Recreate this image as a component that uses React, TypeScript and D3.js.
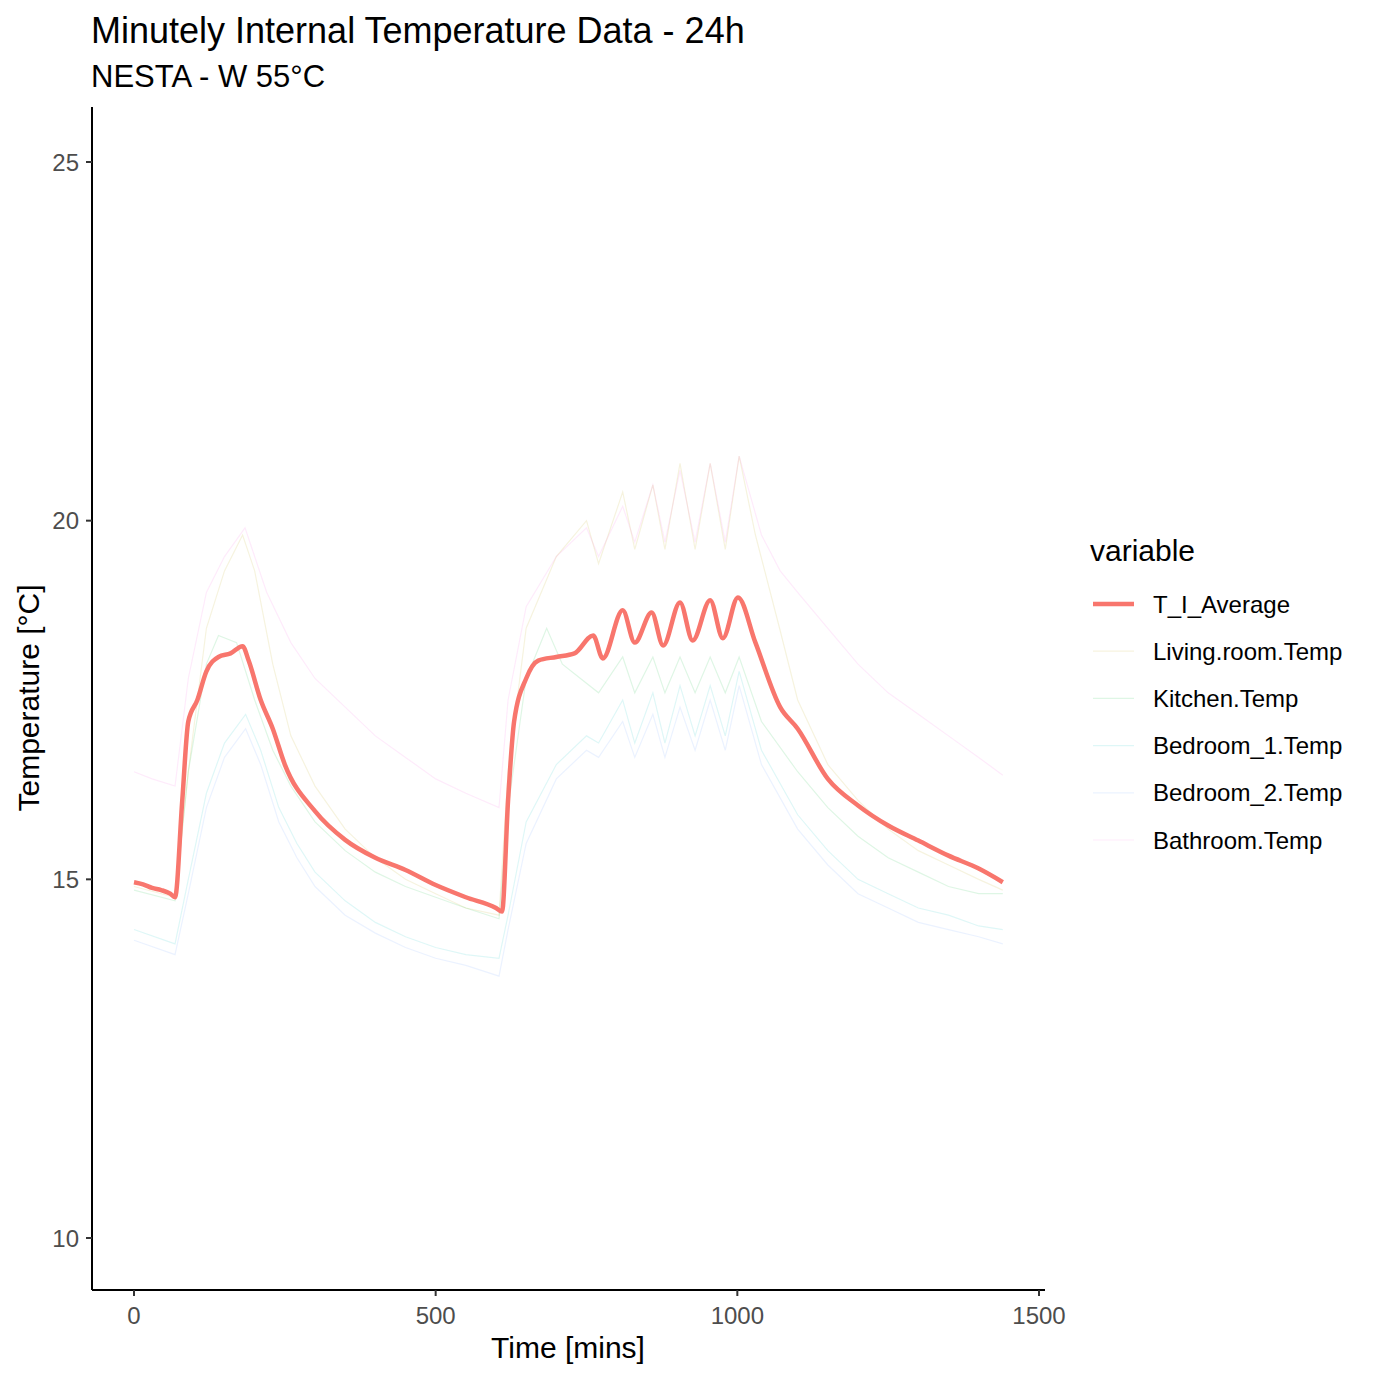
// minutely internal temperature, 24h, one thick average line + faint room lines

import React, { useEffect, useRef } from "react";
import * as d3 from "d3";

const seriesNames = [
  "T_I_Average",
  "Living.room.Temp",
  "Kitchen.Temp",
  "Bedroom_1.Temp",
  "Bedroom_2.Temp",
  "Bathroom.Temp",
];
const seriesColors = ["#F8766D", "#B79F00", "#00BA38", "#00BFC4", "#619CFF", "#F564E3"];

const avgTime = [0, 15, 30, 45, 60, 68, 80, 90, 105, 120, 140, 160, 180, 190, 210, 230, 250, 300, 350, 400, 450, 500, 550, 600, 610, 620, 630, 650, 670, 700, 730, 761, 777, 810, 830, 858, 877, 905, 926, 955, 976, 1001, 1030, 1071, 1100, 1150, 1200, 1250, 1300, 1350, 1400, 1440];
const avgTemp = [14.96, 14.93, 14.88, 14.85, 14.8, 14.75, 16.1, 17.2, 17.5, 17.9, 18.1, 18.15, 18.25, 18.05, 17.5, 17.1, 16.6, 15.95, 15.55, 15.3, 15.13, 14.92, 14.75, 14.6, 14.55, 16.1, 17.2, 17.8, 18.05, 18.1, 18.15, 18.4, 18.08, 18.75, 18.3, 18.72, 18.26, 18.86, 18.33, 18.89, 18.36, 18.93, 18.3, 17.4, 17.1, 16.4, 16.03, 15.75, 15.54, 15.33, 15.15, 14.96];

const livingTime = [0, 68, 90, 120, 150, 180, 200, 230, 260, 300, 350, 400, 450, 500, 550, 605, 620, 650, 700, 750, 770, 810, 830, 860, 880, 905, 930, 955, 980, 1003, 1030, 1070, 1100, 1150, 1200, 1250, 1300, 1350, 1400, 1440];
const livingTemp = [14.9, 14.75, 16.5, 18.5, 19.3, 19.8, 19.3, 18.0, 17.0, 16.3, 15.7, 15.3, 15.0, 14.8, 14.6, 14.5, 16.5, 18.5, 19.5, 20.0, 19.4, 20.4, 19.6, 20.5, 19.6, 20.8, 19.6, 20.8, 19.6, 20.9, 19.8, 18.5, 17.5, 16.6, 16.1, 15.7, 15.4, 15.2, 15.0, 14.85];

const kitchenTime = [0, 68, 90, 120, 140, 170, 200, 230, 260, 300, 350, 400, 450, 500, 550, 605, 620, 650, 684, 710, 740, 770, 810, 830, 860, 880, 905, 930, 955, 980, 1003, 1040, 1100, 1150, 1200, 1250, 1300, 1350, 1400, 1440];
const kitchenTemp = [14.85, 14.7, 16.5, 18.0, 18.4, 18.3, 17.5, 16.8, 16.3, 15.8, 15.4, 15.1, 14.9, 14.75, 14.6, 14.45, 16.0, 17.8, 18.5, 18.0, 17.8, 17.6, 18.1, 17.6, 18.1, 17.6, 18.1, 17.6, 18.1, 17.6, 18.1, 17.2, 16.5, 16.0, 15.6, 15.3, 15.1, 14.9, 14.8, 14.8];

const bed1Time = [0, 68, 90, 120, 150, 185, 210, 240, 270, 300, 350, 400, 450, 500, 550, 605, 620, 650, 700, 750, 770, 810, 830, 860, 880, 905, 930, 955, 980, 1003, 1040, 1100, 1150, 1200, 1250, 1300, 1350, 1400, 1440];
const bed1Temp = [14.3, 14.1, 15.0, 16.2, 16.9, 17.3, 16.8, 16.0, 15.5, 15.1, 14.7, 14.4, 14.2, 14.05, 13.95, 13.9, 14.5, 15.8, 16.6, 17.0, 16.9, 17.5, 16.9, 17.6, 16.9, 17.7, 17.0, 17.7, 17.0, 17.9, 16.8, 15.9, 15.4, 15.0, 14.8, 14.6, 14.5, 14.35, 14.3];

const bed2Time = [0, 68, 90, 120, 150, 185, 210, 240, 270, 300, 350, 400, 450, 500, 550, 605, 620, 650, 700, 750, 770, 810, 830, 860, 880, 905, 930, 955, 980, 1003, 1040, 1100, 1150, 1200, 1250, 1300, 1350, 1400, 1440];
const bed2Temp = [14.15, 13.95, 14.8, 16.0, 16.7, 17.1, 16.6, 15.8, 15.3, 14.9, 14.5, 14.25, 14.05, 13.9, 13.8, 13.65, 14.3, 15.5, 16.4, 16.8, 16.7, 17.2, 16.7, 17.3, 16.7, 17.4, 16.8, 17.5, 16.8, 17.7, 16.6, 15.7, 15.2, 14.8, 14.6, 14.4, 14.3, 14.2, 14.1];

const bathTime = [0, 30, 68, 90, 120, 150, 184, 220, 260, 300, 350, 400, 450, 500, 550, 605, 620, 650, 700, 750, 770, 810, 830, 860, 880, 905, 930, 955, 980, 1003, 1040, 1071, 1100, 1150, 1200, 1250, 1300, 1350, 1400, 1440];
const bathTemp = [16.5, 16.4, 16.3, 17.8, 19.0, 19.5, 19.9, 19.0, 18.3, 17.8, 17.4, 17.0, 16.7, 16.4, 16.2, 16.0, 17.5, 18.8, 19.5, 19.9, 19.5, 20.2, 19.7, 20.5, 19.7, 20.7, 19.7, 20.8, 19.7, 20.9, 19.8, 19.3, 19.0, 18.5, 18.0, 17.6, 17.3, 17.0, 16.7, 16.45];

const xTicks = [0, 500, 1000, 1500];
const yTicks = [10, 15, 20, 25];

type Pt = { t: number; v: number };
const zip = (ts: number[], vs: number[]): Pt[] => ts.map((t, i) => ({ t, v: vs[i] }));

const App: React.FC = () => {
  const svgRef = useRef<SVGSVGElement | null>(null);

  useEffect(() => {
    const width = 1379;
    const height = 1379;
    const panelLeft = 92;
    const panelRight = 1045;
    const panelTop = 107;
    const panelBottom = 1290;
    const font = "Arial, 'Liberation Sans', sans-serif";

    const x = d3.scaleLinear().domain([0, 1500]).range([134, 1039]);
    const y = d3.scaleLinear().domain([10, 25]).range([1238, 162]);

    const svg = d3
      .select(svgRef.current)
      .attr("width", width)
      .attr("height", height)
      .attr("viewBox", [0, 0, width, height])
      .style("display", "block")
      .style("position", "absolute")
      .style("left", "0px")
      .style("top", "0px")
      .style("font-family", font);
    svg.selectAll("*").remove();

    svg.append("rect").attr("width", width).attr("height", height).attr("fill", "#fff");

    // titles
    svg
      .append("text")
      .attr("x", 91)
      .attr("y", 43)
      .attr("font-size", 36)
      .attr("fill", "#000")
      .text("Minutely Internal Temperature Data - 24h");
    svg
      .append("text")
      .attr("x", 91)
      .attr("y", 87)
      .attr("font-size", 31)
      .attr("fill", "#000")
      .text("NESTA - W 55°C");

    const line = d3
      .line<Pt>()
      .x((d) => x(d.t))
      .y((d) => y(d.v));

    const faint = [
      zip(livingTime, livingTemp),
      zip(kitchenTime, kitchenTemp),
      zip(bed1Time, bed1Temp),
      zip(bed2Time, bed2Temp),
      zip(bathTime, bathTemp),
    ];

    faint.forEach((pts, i) => {
      svg
        .append("path")
        .datum(pts)
        .attr("d", line.curve(d3.curveLinear))
        .attr("fill", "none")
        .attr("stroke", seriesColors[i + 1])
        .attr("stroke-opacity", 0.13)
        .attr("stroke-width", 1.2);
    });

    svg
      .append("path")
      .datum(zip(avgTime, avgTemp))
      .attr("d", line.curve(d3.curveMonotoneX))
      .attr("fill", "none")
      .attr("stroke", seriesColors[0])
      .attr("stroke-width", 4.5)
      .attr("stroke-linejoin", "round");

    // axes (ggplot classic)
    const gx = svg.append("g");
    gx.append("line")
      .attr("x1", panelLeft)
      .attr("x2", panelRight)
      .attr("y1", panelBottom)
      .attr("y2", panelBottom)
      .attr("stroke", "#000")
      .attr("stroke-width", 2);
    xTicks.forEach((t) => {
      gx.append("line")
        .attr("x1", x(t))
        .attr("x2", x(t))
        .attr("y1", panelBottom)
        .attr("y2", panelBottom + 6)
        .attr("stroke", "#333")
        .attr("stroke-width", 2);
      gx.append("text")
        .attr("x", x(t))
        .attr("y", panelBottom + 34)
        .attr("text-anchor", "middle")
        .attr("font-size", 24)
        .attr("fill", "#4D4D4D")
        .text(t);
    });

    const gy = svg.append("g");
    gy.append("line")
      .attr("x1", panelLeft)
      .attr("x2", panelLeft)
      .attr("y1", panelTop)
      .attr("y2", panelBottom)
      .attr("stroke", "#000")
      .attr("stroke-width", 2);
    yTicks.forEach((v) => {
      gy.append("line")
        .attr("x1", panelLeft - 6)
        .attr("x2", panelLeft)
        .attr("y1", y(v))
        .attr("y2", y(v))
        .attr("stroke", "#333")
        .attr("stroke-width", 2);
      gy.append("text")
        .attr("x", panelLeft - 13)
        .attr("y", y(v) + 8.5)
        .attr("text-anchor", "end")
        .attr("font-size", 24)
        .attr("fill", "#4D4D4D")
        .text(v);
    });

    svg
      .append("text")
      .attr("x", 568)
      .attr("y", 1358)
      .attr("text-anchor", "middle")
      .attr("font-size", 30)
      .attr("fill", "#000")
      .text("Time [mins]");
    svg
      .append("text")
      .attr("transform", `translate(39,698) rotate(-90)`)
      .attr("text-anchor", "middle")
      .attr("font-size", 30)
      .attr("fill", "#000")
      .text("Temperature [°C]");

    // legend
    const legend = svg.append("g");
    legend
      .append("text")
      .attr("x", 1090)
      .attr("y", 561)
      .attr("font-size", 30)
      .attr("fill", "#000")
      .text("variable");
    seriesNames.forEach((name, i) => {
      const ky = 604 + i * 47.2;
      legend
        .append("line")
        .attr("x1", 1093)
        .attr("x2", 1134)
        .attr("y1", ky)
        .attr("y2", ky)
        .attr("stroke", seriesColors[i])
        .attr("stroke-opacity", i === 0 ? 1 : 0.13)
        .attr("stroke-width", i === 0 ? 4.5 : 1.2);
      legend
        .append("text")
        .attr("x", 1153)
        .attr("y", ky + 8.5)
        .attr("font-size", 24)
        .attr("fill", "#000")
        .text(name);
    });
  }, []);

  return <svg ref={svgRef}></svg>;
};

export default App;
